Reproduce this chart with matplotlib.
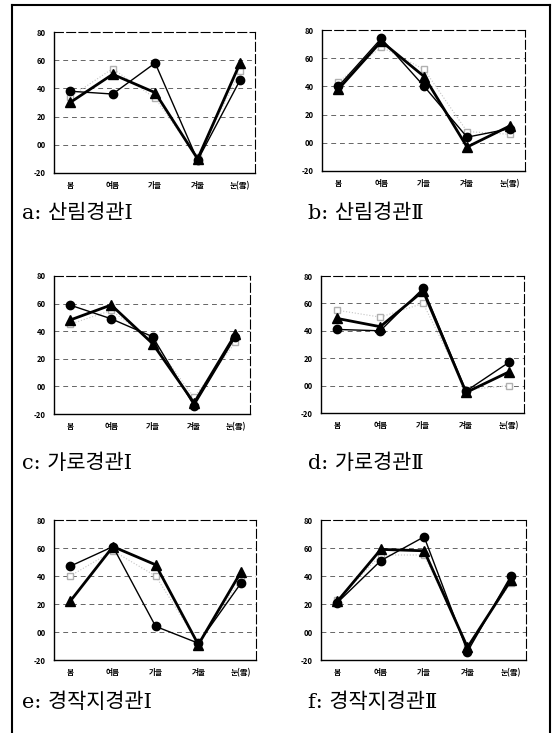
import matplotlib
matplotlib.use("Agg")
import matplotlib.pyplot as plt
from matplotlib.lines import Line2D

plt.rcParams["font.family"] = ["Noto Sans CJK KR", "DejaVu Sans"]

seasons = ["봄", "여름", "가을", "겨울", "눈(雪)"]
y_ticks = [-20, 0, 20, 40, 60, 80]
y_tick_labels = ["-20", "00", "20", "40", "60", "80"]

captions = ["a: 산림경관Ⅰ", "b: 산림경관Ⅱ", "c: 가로경관Ⅰ",
            "d: 가로경관Ⅱ", "e: 경작지경관Ⅰ", "f: 경작지경관Ⅱ"]

# circles (thin line)
circle_a = [38, 36, 58, -11, 46]
circle_b = [40, 74, 40, 4, 10]
circle_c = [59, 49, 36, -14, 36]
circle_d = [41, 40, 71, -4, 17]
circle_e = [47, 61, 4, -8, 35]
circle_f = [21, 51, 68, -14, 40]

# triangles (thick line)
tri_a = [30, 50, 37, -10, 58]
tri_b = [38, 72, 47, -3, 12]
tri_c = [48, 59, 31, -12, 38]
tri_d = [49, 43, 69, -5, 10]
tri_e = [22, 61, 48, -9, 43]
tri_f = [22, 59, 58, -11, 37]

# faint third series (open markers)
faint_a = [34, 54, 33, -9, 52]
faint_b = [43, 68, 52, 8, 6]
faint_c = [45, 55, 33, -8, 32]
faint_d = [55, 50, 60, -3, 0]
faint_e = [40, 58, 40, -8, 38]
faint_f = [23, 55, 55, -10, 35]

circles = [circle_a, circle_b, circle_c, circle_d, circle_e, circle_f]
triangles = [tri_a, tri_b, tri_c, tri_d, tri_e, tri_f]
faints = [faint_a, faint_b, faint_c, faint_d, faint_e, faint_f]

W, H = 552, 733
fig = plt.figure(figsize=(W / 100, H / 100), dpi=100)

# axes boxes in pixels: left, top, right, bottom
boxes = [
    (54, 32, 255, 173),
    (322, 30, 525, 171),
    (54, 276, 250, 414),
    (321, 276, 524, 413),
    (54, 520, 256, 660),
    (321, 520, 526, 660),
]
caption_pos = [(22, 213), (308, 213), (22, 463), (308, 463), (22, 702), (308, 702)]

x = list(range(len(seasons)))

for i, (l, t, r, b) in enumerate(boxes):
    ax = fig.add_axes([l / W, 1 - b / H, (r - l) / W, (b - t) / H])
    ax.set_xlim(-0.38, 4.35)
    ax.set_ylim(-20, 80)
    for yv in [0, 20, 40, 60]:
        ax.axhline(yv, color="#666666", lw=0.7, ls=(0, (5, 4)), zorder=1)

    ax.plot(x, faints[i], color="#c4c4c4", lw=0.8, ls=":", marker="s",
            markersize=4, markerfacecolor="white", markeredgecolor="#b0b0b0", zorder=2)
    ax.plot(x, circles[i], color="black", lw=1.0, marker="o", markersize=6, zorder=3)
    ax.plot(x, triangles[i], color="black", lw=2.0, marker="^", markersize=7, zorder=4)

    ax.set_xticks(x)
    ax.set_xticklabels(seasons, fontsize=5.5, fontweight="bold")
    ax.set_yticks(y_ticks)
    ax.set_yticklabels(y_tick_labels, fontsize=5.5, fontweight="bold")
    ax.tick_params(length=0, pad=6)
    for side in ["top", "right"]:
        ax.spines[side].set_linestyle((0, (8, 3)))
        ax.spines[side].set_linewidth(0.8)
    ax.spines["left"].set_linewidth(1.0)
    ax.spines["bottom"].set_linewidth(1.0)

    cx, cy = caption_pos[i]
    fig.text(cx / W, 1 - cy / H, captions[i], fontsize=15, va="center", ha="left",
             family=["DejaVu Serif", "Noto Sans CJK KR"])

# outer frame
fig.add_artist(Line2D([12 / W, 12 / W], [0, 1 - 5 / H], color="black", lw=1.5))
fig.add_artist(Line2D([12 / W, 550 / W], [1 - 5 / H, 1 - 5 / H], color="black", lw=1.5))
fig.add_artist(Line2D([550 / W, 550 / W], [0, 1 - 5 / H], color="black", lw=1.5))

fig.savefig("out.png", dpi=100)
